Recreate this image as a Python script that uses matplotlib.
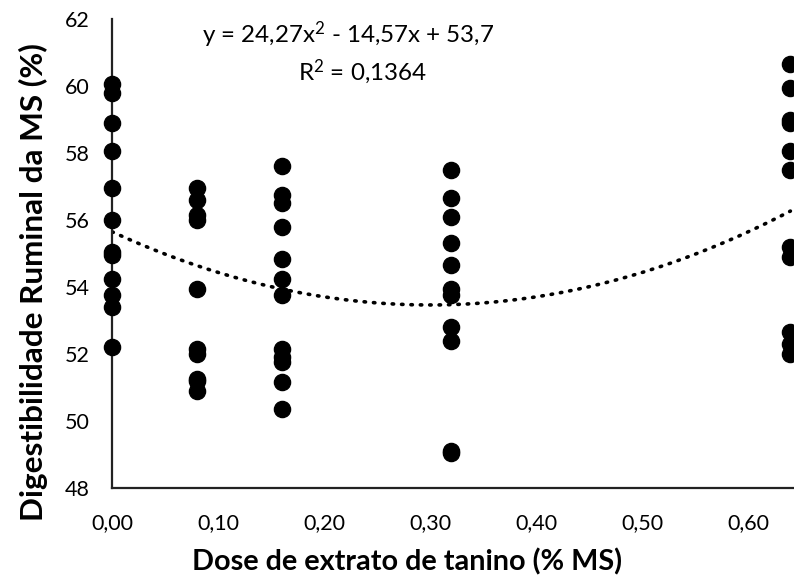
#scatter of ruminal DM digestibility vs tannin extract dose, with quadratic trend

import matplotlib
matplotlib.use('Agg')
import matplotlib.pyplot as plt
import numpy as np

plt.rcParams['font.family'] = ['Lato', 'DejaVu Sans']
plt.rcParams['mathtext.fontset'] = 'custom'
plt.rcParams['mathtext.rm'] = 'Lato'
plt.rcParams['mathtext.it'] = 'Lato'

#dose levels (% MS) and observed digestibility at each dose
dose_0 = [60.05, 59.8, 58.9, 58.05, 56.95, 56.0, 55.05, 54.95, 54.25, 53.75, 53.4, 52.2]
dose_008 = [56.95, 56.6, 56.15, 56.0, 53.95, 52.15, 52.0, 51.25, 51.2, 50.9]
dose_016 = [57.6, 56.75, 56.5, 55.8, 54.85, 54.25, 53.75, 52.15, 51.9, 51.75, 51.15, 50.35]
dose_032 = [57.5, 56.65, 56.1, 55.3, 54.65, 53.95, 53.75, 52.8, 52.4, 49.1, 49.05]
dose_064 = [60.65, 59.95, 59.0, 58.9, 58.05, 57.5, 55.2, 54.9, 52.65, 52.3, 52.0]

doses = [0.0, 0.08, 0.16, 0.32, 0.64]
groups = [dose_0, dose_008, dose_016, dose_032, dose_064]

#trend coefficients (curve drawn in the chart)
coef_a = 24.27
coef_b = -14.57
coef_c = 55.65

x_ticks = [0.0, 0.1, 0.2, 0.3, 0.4, 0.5, 0.6]
y_ticks = [48, 50, 52, 54, 56, 58, 60, 62]

W, H = 794, 581
fig = plt.figure(figsize=(W / 100, H / 100), dpi=100)
ax = fig.add_axes([112 / W, (H - 488) / H, 742 / W, (488 - 19) / H])

for d, vals in zip(doses, groups):
    ax.scatter([d] * len(vals), vals, s=135, color='black', zorder=3, clip_on=False)

xs = np.linspace(0, 0.64, 200)
ax.plot(xs, coef_a * xs**2 + coef_b * xs + coef_c, color='black', lw=2.6,
        linestyle=(0, (0.4, 2.2)), dash_capstyle='round', zorder=2)

ax.set_xlim(0, 0.7)
ax.set_ylim(48, 62)
ax.set_xticks(x_ticks)
ax.set_xticklabels([('%.2f' % t).replace('.', ',') for t in x_ticks])
ax.set_yticks(y_ticks)
ax.tick_params(axis='both', length=0, labelsize=15.5)
ax.tick_params(axis='x', pad=18)
ax.tick_params(axis='y', pad=16)

for s in ['top', 'right']:
    ax.spines[s].set_visible(False)
for s in ['left', 'bottom']:
    ax.spines[s].set_linewidth(1.6)
    ax.spines[s].set_color('#222222')

xl = fig.text(407 / W, 1 - 562 / H, 'Dose de extrato de tanino (% MS)', ha='center', va='center',
              fontsize=17, fontweight='bold')
yl = fig.text(33 / W, 1 - 282 / H, 'Digestibilidade Ruminal da MS (%)', ha='center', va='center',
              rotation=90, fontsize=17, fontweight='bold')
eq1 = fig.text(202 / W, 1 - 35 / H, 'y = 24,27x$^{2}$ - 14,57x + 53,7', ha='left', va='center', fontsize=17)
eq2 = fig.text(298 / W, 1 - 72 / H, 'R$^{2}$ = 0,1364', ha='left', va='center', fontsize=17)

#scale text so its length matches the reference
renderer = fig.canvas.get_renderer()
for t, target, vertical in [(xl, 430, False), (yl, 478, True), (eq1, 293, False)]:
    bb = t.get_window_extent(renderer)
    size = bb.height if vertical else bb.width
    t.set_fontsize(t.get_fontsize() * target / size)
eq2.set_fontsize(eq1.get_fontsize())

fig.savefig('out.png', dpi=100)
